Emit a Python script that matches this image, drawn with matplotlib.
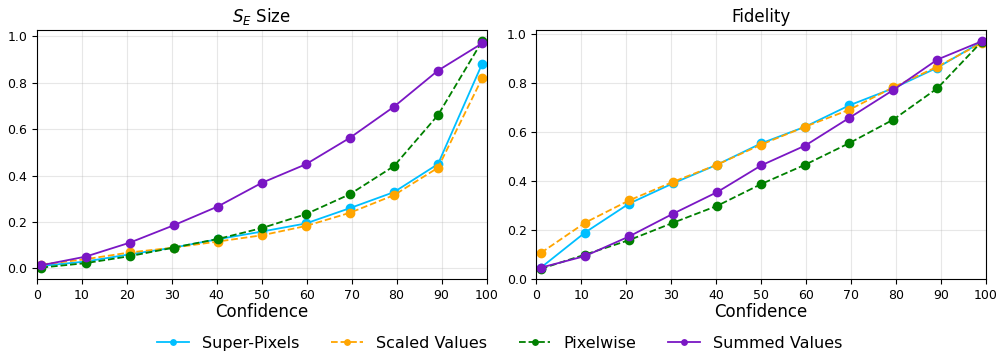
import matplotlib
matplotlib.use("Agg")
import matplotlib.pyplot as plt

# confidence levels (x positions of the points)
confidence = [1, 10.8, 20.6, 30.4, 40.2, 50, 59.8, 69.6, 79.4, 89.2, 99]

# S_E size
size_superpixels = [0.011, 0.030, 0.061, 0.090, 0.126, 0.159, 0.194, 0.260, 0.329, 0.450, 0.881]
size_scaled = [0.017, 0.040, 0.069, 0.090, 0.116, 0.143, 0.183, 0.240, 0.316, 0.434, 0.819]
size_pixelwise = [0.004, 0.023, 0.053, 0.090, 0.127, 0.174, 0.234, 0.320, 0.441, 0.661, 0.979]
size_summed = [0.014, 0.051, 0.111, 0.186, 0.267, 0.369, 0.449, 0.563, 0.697, 0.853, 0.970]

# fidelity
fid_superpixels = [0.046, 0.189, 0.307, 0.390, 0.466, 0.553, 0.621, 0.708, 0.778, 0.862, 0.967]
fid_scaled = [0.106, 0.229, 0.320, 0.396, 0.466, 0.548, 0.621, 0.690, 0.782, 0.866, 0.962]
fid_pixelwise = [0.041, 0.099, 0.158, 0.229, 0.298, 0.387, 0.466, 0.554, 0.650, 0.778, 0.967]
fid_summed = [0.046, 0.093, 0.173, 0.266, 0.354, 0.463, 0.544, 0.657, 0.771, 0.895, 0.969]

labels = ["Super-Pixels", "Scaled Values", "Pixelwise", "Summed Values"]
colors = ["#00bfff", "#ffa500", "#008000", "#7a17c4"]
styles = ["-", "--", "--", "-"]

fig, axes = plt.subplots(1, 2, figsize=(9.99, 3.53), dpi=100)
fig.subplots_adjust(left=0.037, right=0.987, top=0.915, bottom=0.21, wspace=0.111)

panels = [
    ("$S_E$ Size", [size_superpixels, size_scaled, size_pixelwise, size_summed]),
    ("Fidelity", [fid_superpixels, fid_scaled, fid_pixelwise, fid_summed]),
]

for i, (ax, (title, series)) in enumerate(zip(axes, panels)):
    for vals, lab, col, ls in zip(series, labels, colors, styles):
        ax.plot(confidence, vals, ls, color=col, marker="o", markersize=6,
                linewidth=1.3, label=lab)
    ax.set_title(title, fontsize=12)
    ax.set_xlabel("Confidence", fontsize=12, labelpad=1)
    ax.set_xlim(0, 100)
    ax.set_xticks(range(0, 101, 10))
    if i == 1:
        ax.set_ylim(bottom=0)
    ax.tick_params(labelsize=9)
    ax.grid(True, alpha=0.3)

handles, leg_labels = axes[0].get_legend_handles_labels()
fig.legend(handles, leg_labels, loc="center", ncol=4, frameon=False,
           fontsize=11.5, bbox_to_anchor=(0.5, 0.028), columnspacing=2.0,
           markerscale=0.65)

plt.savefig("out.png", dpi=100)
plt.close()
